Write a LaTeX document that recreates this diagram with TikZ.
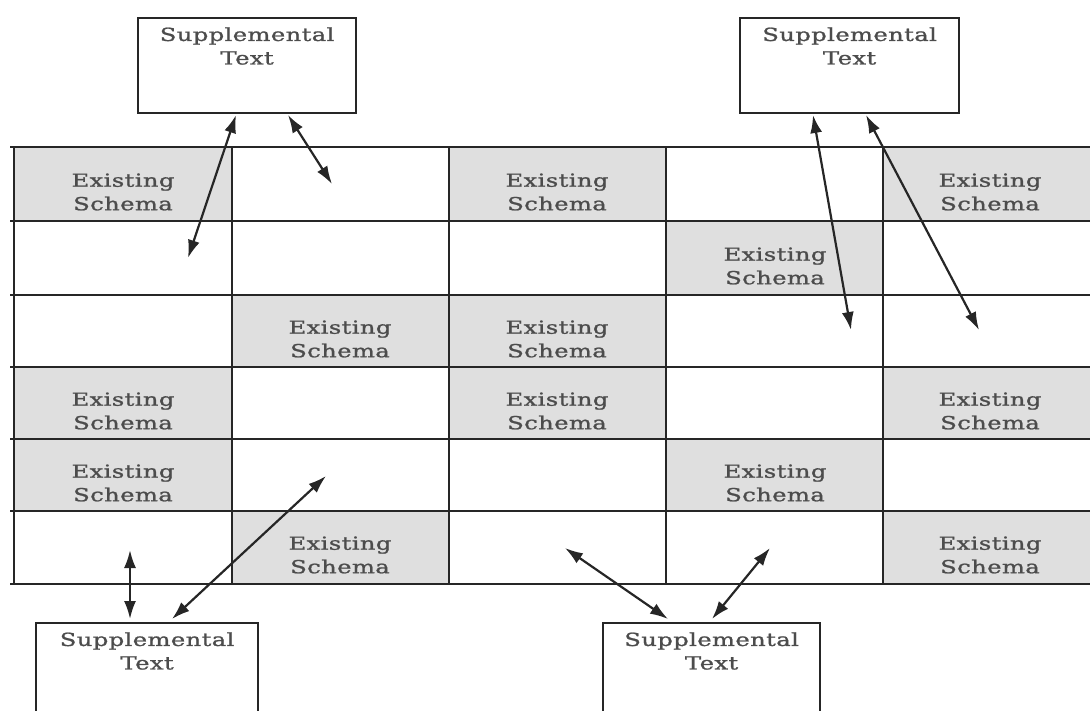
\documentclass[tikz,border=0pt]{standalone}
\usepackage{fontspec}
\newfontfamily\diafont[FakeStretch=1.35,LetterSpace=2,FakeBold=1.2]{DejaVu Serif}
\usetikzlibrary{arrows.meta}
\begin{document}
\begin{tikzpicture}[x=1pt,y=-1pt,
  gridline/.style={line width=2pt, draw=black!85},
  cellfill/.style={fill=gray!25},
  suppbox/.style={draw=black!85, line width=2.2pt, anchor=north west, inner sep=0pt, minimum height=95pt},
  lbl/.style={font=\diafont\fontsize{18}{23.5}\selectfont, text=black!70, align=center, inner sep=0pt},
  link/.style={line width=2.2pt, draw=black!85, {Latex[length=18pt,width=12pt]}-{Latex[length=18pt,width=12pt]}},
]
\useasboundingbox (0,0) rectangle (1090,711);
\clip (0,0) rectangle (1090,711);

% gray cells
\fill[cellfill] (14,147) rectangle (232,221);
\fill[cellfill] (449,147) rectangle (666,221);
\fill[cellfill] (883,147) rectangle (1090,221);
\fill[cellfill] (666,221) rectangle (883,295);
\fill[cellfill] (232,295) rectangle (449,367);
\fill[cellfill] (449,295) rectangle (666,367);
\fill[cellfill] (14,367) rectangle (232,439);
\fill[cellfill] (449,367) rectangle (666,439);
\fill[cellfill] (883,367) rectangle (1090,439);
\fill[cellfill] (14,439) rectangle (232,511);
\fill[cellfill] (666,439) rectangle (883,511);
\fill[cellfill] (232,511) rectangle (449,584);
\fill[cellfill] (883,511) rectangle (1090,584);

% grid lines
\foreach \yy in {147,221,295,367,439,511,584}
  \draw[gridline] (10,\yy) -- (1090,\yy);
\foreach \xx in {14,232,449,666,883}
  \draw[gridline] (\xx,147) -- (\xx,584);

% cell labels
\node[lbl] (e00) at (123,192) {Existing\\Schema};
\node[lbl] (e02) at (557,192) {Existing\\Schema};
\node[lbl] (e04) at (990,192) {Existing\\Schema};
\node[lbl] (e13) at (775,266) {Existing\\Schema};
\node[lbl] (e21) at (340,339) {Existing\\Schema};
\node[lbl] (e22) at (557,339) {Existing\\Schema};
\node[lbl] (e30) at (123,411) {Existing\\Schema};
\node[lbl] (e32) at (557,411) {Existing\\Schema};
\node[lbl] (e34) at (990,411) {Existing\\Schema};
\node[lbl] (e40) at (123,483) {Existing\\Schema};
\node[lbl] (e43) at (775,483) {Existing\\Schema};
\node[lbl] (e51) at (340,555) {Existing\\Schema};
\node[lbl] (e54) at (990,555) {Existing\\Schema};

% supplemental boxes
\node[suppbox, minimum width=218pt] (tl) at (137,17) {};
\node[suppbox, minimum width=219pt] (tr) at (739,17) {};
\node[suppbox, minimum width=222pt, minimum height=100pt] (bl) at (35,622) {};
\node[suppbox, minimum width=217pt, minimum height=100pt] (bm) at (602,622) {};
\node[lbl] (tlt) at ([yshift=-29pt]tl.north) {Supplemental\\Text};
\node[lbl] (trt) at ([yshift=-29pt]tr.north) {Supplemental\\Text};
\node[lbl] (blt) at ([yshift=-29pt]bl.north) {Supplemental\\Text};
\node[lbl] (bmt) at ([yshift=-29pt]bm.north) {Supplemental\\Text};

% arrow ends
\coordinate (tl1) at (236,115);
\coordinate (tl2) at (288,115);
\coordinate (tr1) at (813,115);
\coordinate (tr2) at (866,115);
\coordinate (bl1) at (130,619);
\coordinate (bl2) at (172,619);
\coordinate (bm1) at (668,619);
\coordinate (bm2) at (712,619);
\coordinate (g1) at (188,258);
\coordinate (g2) at (332,184);
\coordinate (g3) at (851,330);
\coordinate (g4) at (979,330);
\coordinate (g5) at (130,550);
\coordinate (g6) at (326,476);
\coordinate (g7) at (565,548);
\coordinate (g8) at (770,548);

\draw[link] (tl1) -- (g1);
\draw[link] (tl2) -- (g2);
\draw[link] (tr1) -- (g3);
\draw[link] (tr2) -- (g4);
\draw[link] (bl1) -- (g5);
\draw[link] (bl2) -- (g6);
\draw[link] (bm1) -- (g7);
\draw[link] (bm2) -- (g8);
\end{tikzpicture}
\end{document}
